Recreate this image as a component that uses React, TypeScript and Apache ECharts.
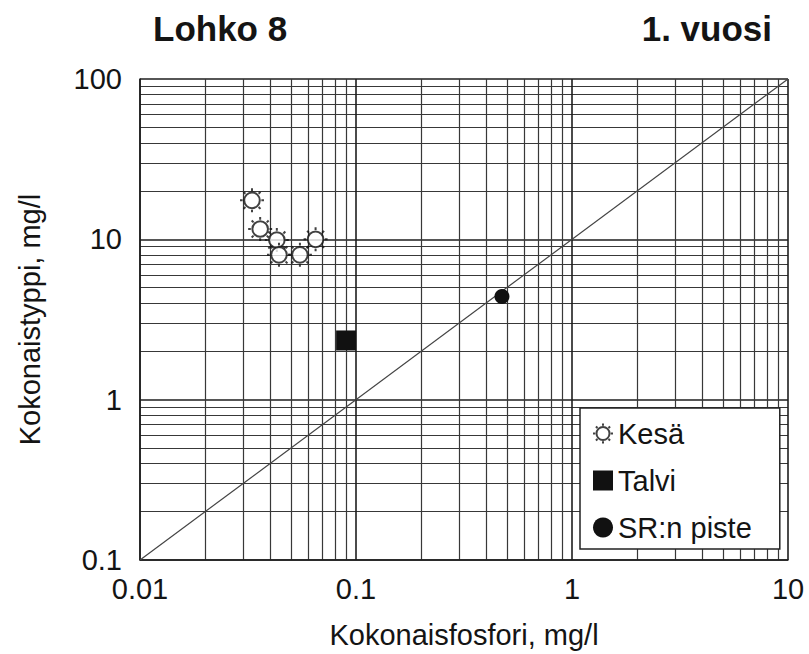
import React, { useEffect, useRef } from "react";
import * as echarts from "echarts";

// Kokonaisfosfori (mg/l) and kokonaistyppi (mg/l) per sample group
const kesaP = [0.033, 0.036, 0.043, 0.044, 0.055, 0.065];
const kesaN = [17.5, 11.6, 9.9, 8.0, 8.0, 10.0];
const talviP = [0.09];
const talviN = [2.34];
const srP = [0.474];
const srN = [4.4];
// N:P = 10 reference line
const refP = [0.01, 10];
const refN = [0.1, 100];

const seriesNames = ["Kesä", "Talvi", "SR:n piste"];

// hollow sun-like marker: ring with eight short rays
const SUN =
  "path://M16.5,10A6.5,6.5 0 1,1 3.5,10A6.5,6.5 0 1,1 16.5,10Z" +
  "M17.8,10L20,10M2.2,10L0,10M10,2.2L10,0M10,17.8L10,20" +
  "M15.5,15.5L17.07,17.07M4.5,4.5L2.93,2.93M15.5,4.5L17.07,2.93M4.5,15.5L2.93,17.07";

const zip = (a: number[], b: number[]) => a.map((v, i) => [v, b[i]]);

const FONT = "Arial, 'Liberation Sans', Helvetica, sans-serif";
const INK = "#141414";

export default function App() {
  const ref = useRef<HTMLDivElement>(null);
  useEffect(() => {
    const chart = echarts.init(ref.current!, null, { renderer: "svg" });
    const axisCommon = {
      type: "log" as const,
      logBase: 10,
      nameLocation: "middle" as const,
      nameTextStyle: { fontFamily: FONT, fontSize: 29, color: INK },
      axisLine: { show: true, lineStyle: { color: "#1e1e1e", width: 1.5 } },
      axisTick: { show: false },
      axisLabel: { fontFamily: FONT, fontSize: 29, color: INK },
      splitLine: { show: true, lineStyle: { color: "#1e1e1e", width: 1.6 } },
      minorTick: { show: false, splitNumber: 9 },
      minorSplitLine: { show: true, lineStyle: { color: "#383838", width: 1.2 } },
    };
    chart.setOption({
      animation: false,
      backgroundColor: "#fff",
      title: [
        {
          text: "Lohko 8",
          left: 148,
          top: 6,
          textStyle: { fontFamily: FONT, fontSize: 35, fontWeight: "bold", color: INK },
        },
        {
          text: "1. vuosi",
          right: 32,
          top: 6,
          textStyle: { fontFamily: FONT, fontSize: 35, fontWeight: "bold", color: INK },
        },
      ],
      grid: { left: 140, top: 79, right: 21, bottom: 91 },
      xAxis: {
        ...axisCommon,
        min: 0.01,
        max: 10,
        name: "Kokonaisfosfori, mg/l",
        nameGap: 60,
        axisLabel: { ...axisCommon.axisLabel, margin: 14 },
      },
      yAxis: {
        ...axisCommon,
        min: 0.1,
        max: 100,
        name: "Kokonaistyppi, mg/l",
        nameGap: 96,
        axisLabel: { ...axisCommon.axisLabel, margin: 18 },
      },
      legend: {
        data: seriesNames,
        orient: "vertical",
        left: 580,
        top: 408,
        width: 200,
        padding: [11, 28, 7, 12],
        itemGap: 18,
        itemWidth: 20,
        itemHeight: 20,
        backgroundColor: "#fff",
        borderColor: "#222",
        borderWidth: 1.5,
        borderRadius: 0,
        textStyle: { fontFamily: FONT, fontSize: 29, color: INK },
      },
      series: [
        {
          name: "ref",
          type: "line",
          data: zip(refP, refN),
          symbol: "none",
          silent: true,
          lineStyle: { color: "#444", width: 1.2 },
          z: 2,
        },
        {
          name: "Kesä",
          type: "scatter",
          data: zip(kesaP, kesaN),
          symbol: SUN,
          symbolSize: 24,
          itemStyle: { color: "#fff", borderColor: "#111", borderWidth: 2 },
          z: 5,
        },
        {
          name: "Talvi",
          type: "scatter",
          data: zip(talviP, talviN),
          symbol: "rect",
          symbolSize: 20,
          itemStyle: { color: "#111", opacity: 1 },
          z: 5,
        },
        {
          name: "SR:n piste",
          type: "scatter",
          data: zip(srP, srN),
          symbol: "circle",
          symbolSize: 15,
          itemStyle: { color: "#111", opacity: 1 },
          z: 5,
        },
      ],
    });
    return () => chart.dispose();
  }, []);
  return (
    <div
      ref={ref}
      style={{ position: "absolute", left: 0, top: 0, width: 809, height: 654, background: "#fff" }}
    />
  );
}
